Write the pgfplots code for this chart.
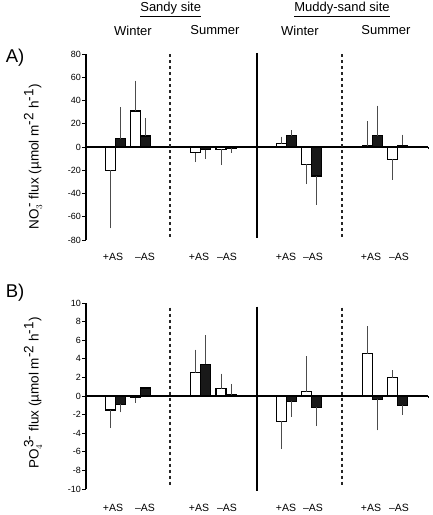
\documentclass[border=0pt]{standalone}
\usepackage{fontspec}
\setmainfont{Liberation Sans}
\usepackage{pgfplots}
\pgfplotsset{compat=1.18}
\tikzset{dashdiv/.style={line width=1.4pt, dash pattern=on 3pt off 3pt, black!85}}
\pgfplotsset{
  panel/.style={
    scale only axis, width=342pt, height=186pt,
    xmin=86, xmax=428, clip=false,
    axis x line=none, axis y line*=left,
    y axis line style={line width=1.1pt, -},
    ytick style={line width=0.9pt, black},
    tick align=outside, major tick length=4pt,
    yticklabel style={font=\fontsize{9}{10}\selectfont, inner xsep=1pt},
    /pgf/number format/assume math mode=true,
  },
  wbar/.style={ybar, bar width=10, bar shift=0pt, fill=white, draw=black, line width=1.2pt,
    error bars/.cd, y dir=both, y explicit, error mark=none,
    error bar style={black!70, line width=0.7pt}},
  bbar/.style={ybar, bar width=10, bar shift=0pt, fill=black!90, draw=black, line width=1.2pt,
    error bars/.cd, y dir=both, y explicit, error mark=none,
    error bar style={black!70, line width=0.7pt}},
}
\begin{document}
\begin{tikzpicture}[x=1pt,y=1pt]
\path[use as bounding box] (0,0) rectangle (432,515);
% headers
\node[font=\fontsize{13}{15}\selectfont] at (170.7,505.5) {\underline{Sandy site}};
\node[font=\fontsize{13}{15}\selectfont] at (342,505.5) {\underline{Muddy-sand site}};
\node[font=\fontsize{13}{15}\selectfont] at (133,484.5) {Winter};
\node[font=\fontsize{13}{15}\selectfont] at (215,484.5) {Summer};
\node[font=\fontsize{13}{15}\selectfont] at (300,484.5) {Winter};
\node[font=\fontsize{13}{15}\selectfont] at (386,484.5) {Summer};
\node[font=\fontsize{18.5}{20}\selectfont] at (15,457) {A)};
\node[font=\fontsize{18.5}{20}\selectfont] at (15,222) {B)};
\node[rotate=90, font=\fontsize{13.5}{15}\selectfont] at (33,358) {NO$_3^{\,\textrm{-}}$ flux (µmol m$^{\textrm{-2}}$ h$^{\textrm{-1}}$)};
\node[rotate=90, font=\fontsize{13.5}{15}\selectfont] at (33,122) {PO$_4^{\,\textrm{3-}}$ flux (µmol m$^{\textrm{-2}}$ h$^{\textrm{-1}}$)};
% x labels
\foreach \x/\t in {113/+AS,145/–AS,199/+AS,227/–AS,286/+AS,313/–AS,371/+AS,399/–AS}{
  \node[font=\fontsize{10.5}{12}\selectfont] at (\x,258) {\t};
  \node[font=\fontsize{10.5}{12}\selectfont] at (\x,7) {\t};
}
% Panel A
\begin{axis}[panel, at={(86pt,275pt)}, anchor=south west,
  ymin=-80, ymax=80, ytick={-80,-60,...,80}]
\addplot[wbar] coordinates {
 (110.3,-20) += (0,0) -= (0,50)
 (135.3,31) += (0,26) -= (0,0)
 (195.7,-5) += (0,0) -= (0,8)
 (221,-2) += (0,0) -= (0,13.5)
 (281.3,3) += (0,6) -= (0,0)
 (306.7,-15) += (0,0) -= (0,17)
 (367.5,1) += (0,21) -= (0,0)
 (392.7,-10.5) += (0,0) -= (0,17.5)
};
\addplot[bbar] coordinates {
 (120.3,7) += (0,27) -= (0,0)
 (145.3,9.5) += (0,15.5) -= (0,0)
 (205.7,-2.2) += (0,0) -= (0,8)
 (231,-1) += (0,0) -= (0,4)
 (291.3,9.7) += (0,4.5) -= (0,0)
 (316.7,-25) += (0,0) -= (0,24.5)
 (377.5,9.7) += (0,26) -= (0,0)
 (402.7,1.4) += (0,9.2) -= (0,0)
};
\draw[line width=1.1pt] (axis cs:86,0) -- (axis cs:428,0);
\draw[line width=0.8pt] (axis cs:428,0) -- (axis cs:428,-2);
\draw[dashdiv] (axis cs:170,80) -- (axis cs:170,-78);
\draw[dashdiv] (axis cs:342,80) -- (axis cs:342,-78);
\draw[line width=1.3pt] (axis cs:257,81) -- (axis cs:257,-78);
\end{axis}
% Panel B
\begin{axis}[panel, at={(86pt,26pt)}, anchor=south west,
  ymin=-10, ymax=10, ytick={-10,-8,...,10}]
\addplot[wbar] coordinates {
 (110.3,-1.5) += (0,0) -= (0,1.95)
 (135.3,-0.18) += (0,0) -= (0,0.57)
 (195.7,2.5) += (0,2.5) -= (0,0)
 (221,0.8) += (0,1.6) -= (0,0)
 (281.3,-2.7) += (0,0) -= (0,3.0)
 (306.7,0.45) += (0,3.85) -= (0,0)
 (367.5,4.55) += (0,2.95) -= (0,0)
 (392.7,1.95) += (0,0.8) -= (0,0)
};
\addplot[bbar] coordinates {
 (120.3,-0.9) += (0,0) -= (0,0.85)
 (145.3,0.86) += (0,0) -= (0,0)
 (205.7,3.4) += (0,3.15) -= (0,0)
 (231,0.15) += (0,1.15) -= (0,0)
 (291.3,-0.55) += (0,0) -= (0,1.7)
 (316.7,-1.2) += (0,0) -= (0,2.05)
 (377.5,-0.35) += (0,0) -= (0,3.35)
 (402.7,-1.0) += (0,0) -= (0,1.0)
};
\draw[line width=1.1pt] (axis cs:86,0) -- (axis cs:428,0);
\draw[line width=0.8pt] (axis cs:428,0) -- (axis cs:428,-0.25);
\draw[dashdiv] (axis cs:170,9.5) -- (axis cs:170,-9.8);
\draw[dashdiv] (axis cs:342,9.5) -- (axis cs:342,-9.8);
\draw[line width=1.3pt] (axis cs:257,9.6) -- (axis cs:257,-10.2);
\end{axis}
\end{tikzpicture}
\end{document}
